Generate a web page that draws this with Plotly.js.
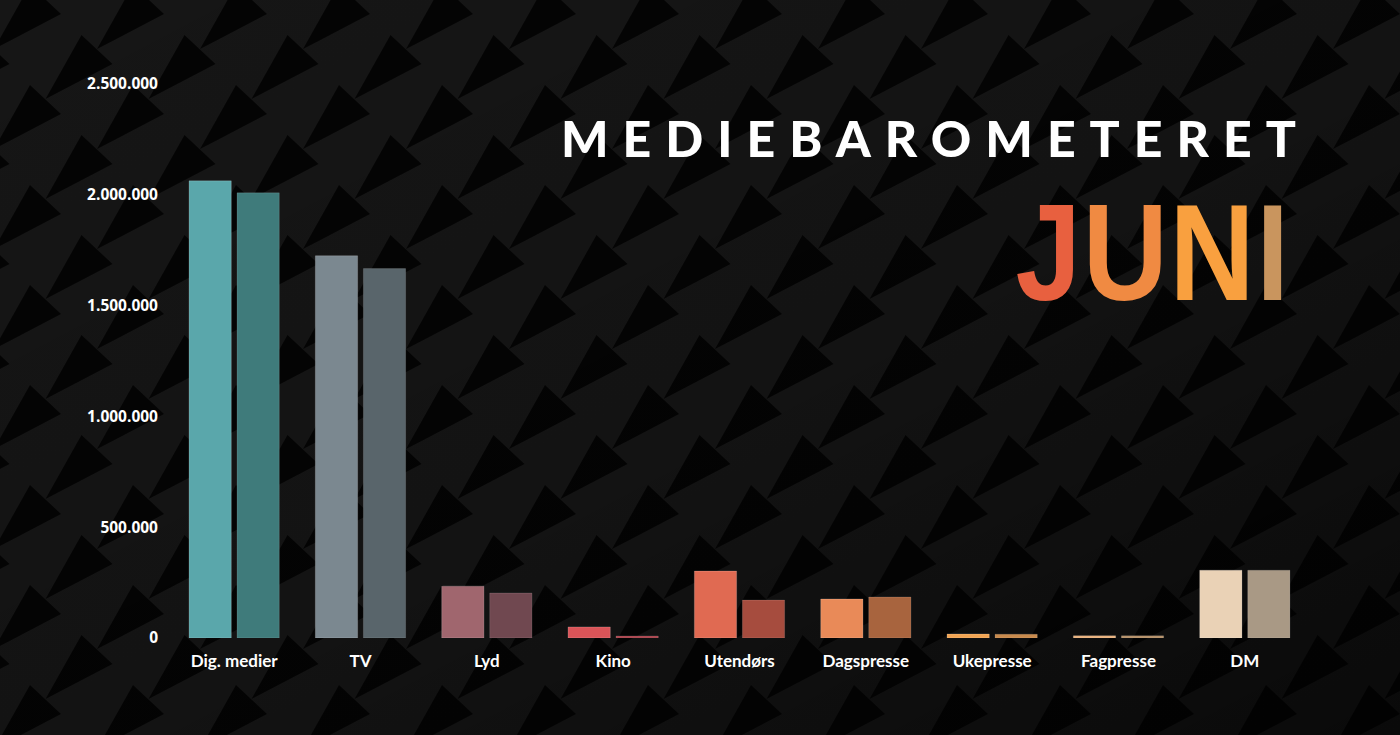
<!DOCTYPE html>
<html>
<head>
<meta charset="utf-8">
<script src="https://cdn.plot.ly/plotly-3.0.1.min.js"></script>
<style>
html,body{margin:0;padding:0;background:#141414;}
#chart{width:1400px;height:735px;}
</style>
</head>
<body>
<div id="chart"></div>
<script>
// Data
const categories = ["Dig. medier","TV","Lyd","Kino","Utendørs","Dagspresse","Ukepresse","Fagpresse","DM"];
const seriesA = [2063000, 1725000, 234000, 50000, 302000, 176000, 18000, 10000, 306000];
const seriesB = [2009000, 1667000, 203000, 9000, 171000, 185000, 17000, 10000, 306000];
const yTicks = [0, 500000, 1000000, 1500000, 2000000, 2500000];

// Styles
const colorsA = ["#5aa7ab","#7b8890","#a0666e","#da5458","#e06a52","#e98a58","#f2a452","#e9b07a","#ead2b6"];
const colorsB = ["#3f7b7b","#59656b","#704850","#a8404a","#a64c3e","#a8643e","#c98a4c","#b59068","#a99985"];

// Decorative background (triangle pattern)
let polys = '';
const apexes = [[20,0],[71.5,50]];
for (const [ax, ay] of apexes) {
  for (const dx of [-103, 0, 103]) {
    for (const dy of [-100, 0, 100]) {
      const a = ax + dx, b = ay + dy;
      polys += '<polygon points="' + a + ',' + b + ' ' + (a-36) + ',' + (b+64) + ' ' + (a+31) + ',' + (b+29) + '" fill="#040404"/>';
    }
  }
}
const bg = 'data:image/svg+xml;utf8,' + encodeURIComponent(
 '<svg xmlns="http://www.w3.org/2000/svg" width="1400" height="735">' +
 '<defs><pattern id="p" width="103" height="100" patternUnits="userSpaceOnUse" patternTransform="translate(10,-15)">' +
 '<rect width="103" height="100" fill="#161616"/>' + polys +
 '</pattern>' +
 '<linearGradient id="g" x1="0" y1="0" x2="1" y2="1">' +
 '<stop offset="0" stop-color="#000" stop-opacity="0"/>' +
 '<stop offset="0.55" stop-color="#000" stop-opacity="0.15"/>' +
 '<stop offset="1" stop-color="#000" stop-opacity="0.55"/>' +
 '</linearGradient></defs>' +
 '<rect width="1400" height="735" fill="url(#p)"/>' +
 '<rect width="1400" height="735" fill="url(#g)"/></svg>');

const traceA = {
  type: 'bar', x: categories, y: seriesA, name: 'A',
  marker: {color: colorsA, line: {color: 'rgba(255,255,255,0.18)', width: 1}},
  hoverinfo: 'x+y'
};
const traceB = {
  type: 'bar', x: categories, y: seriesB, name: 'B',
  marker: {color: colorsB, line: {color: 'rgba(255,255,255,0.12)', width: 1}},
  hoverinfo: 'x+y'
};

const layout = {
  width: 1400, height: 735,
  paper_bgcolor: 'rgba(0,0,0,0)', plot_bgcolor: 'rgba(0,0,0,0)',
  margin: {l: 171, r: 92, t: 84, b: 97},
  separators: ',.',
  barmode: 'group', bargap: 0.24, bargroupgap: 0.12,
  showlegend: false,
  font: {family: 'Lato, sans-serif', color: '#ffffff'},
  images: [{source: bg, xref: 'paper', yref: 'paper', x: -171/1137, y: 1 + 84/554,
            sizex: 1400/1137, sizey: 735/554, sizing: 'stretch', layer: 'below',
            xanchor: 'left', yanchor: 'top'}],
  xaxis: {
    showgrid: false, zeroline: false, showline: false, ticks: '',
    ticklabelstandoff: 11,
    tickfont: {family: 'Lato, sans-serif', size: 17, color: '#ffffff', weight: 700}
  },
  yaxis: {
    range: [0, 2500000], showgrid: false, zeroline: false, showline: false,
    tickvals: yTicks, tickformat: ',d', ticks: '', ticklabelstandoff: 12,
    tickfont: {family: '"Open Sans", sans-serif', size: 15.5, color: '#ffffff', weight: 700}
  },
  annotations: [
    {text: 'MEDIEBAROMETERET', xref: 'paper', yref: 'paper', x: 0.672, y: 0.9025,
     xanchor: 'center', yanchor: 'middle', showarrow: false,
     font: {family: 'Lato, sans-serif', size: 50, color: '#ffffff', weight: 900}},
    {text: '<b><span style="color:#e8603f">J</span><span style="color:#f08a42">U</span><span style="color:#f9a03f">N</span><span style="color:#c9955e">I</span></b>',
     xref: 'paper', yref: 'paper', x: 0.864, y: 0.695,
     xanchor: 'center', yanchor: 'middle', showarrow: false,
     font: {family: '"Liberation Sans", Arial, sans-serif', size: 137, color: '#f08a42', weight: 700}}
  ]
};

Plotly.newPlot('chart', [traceA, traceB], layout, {displayModeBar: false, staticPlot: true}).then(gd => {
  const anns = gd.querySelectorAll('.annotation-text');
  if (anns[0]) anns[0].style.letterSpacing = '14px';
  if (anns[1]) {
    anns[1].style.fontFamily = '"Liberation Sans", Arial, sans-serif';
    anns[1].style.fontWeight = '700';
    anns[1].style.transformBox = 'fill-box';
    anns[1].style.transformOrigin = 'center';
    anns[1].style.transform = 'scaleX(0.86)';
    anns[1].style.letterSpacing = '2px';
  }
});
</script>
</body>
</html>
